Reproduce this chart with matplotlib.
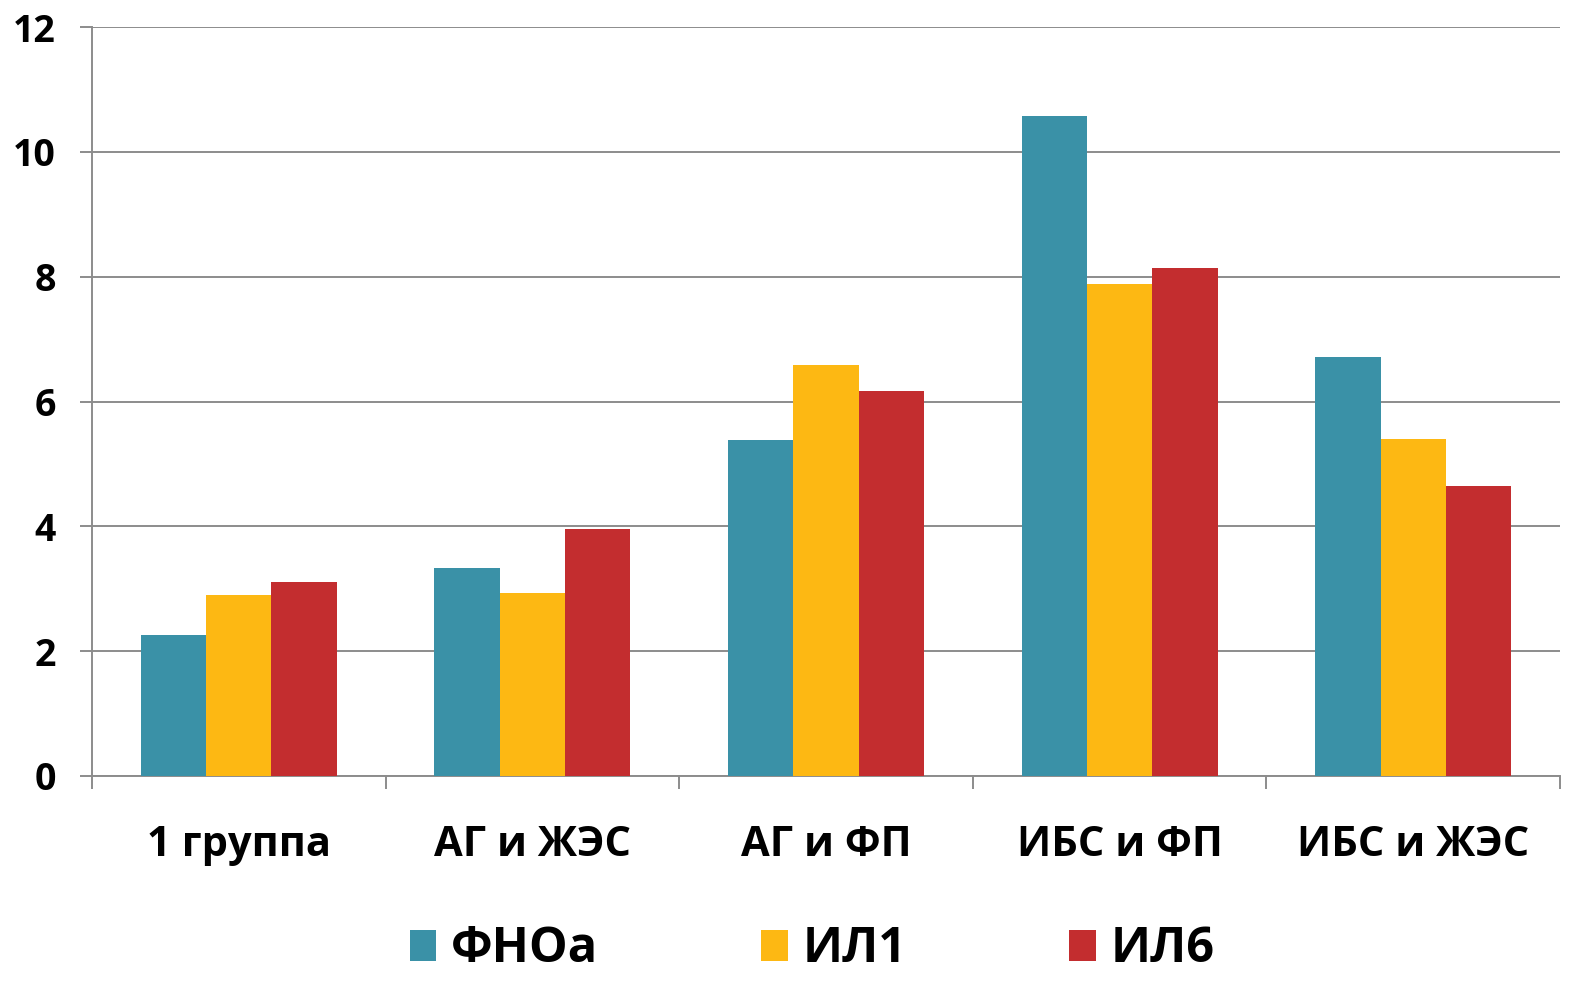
import matplotlib
matplotlib.use("Agg")
import matplotlib.pyplot as plt
import numpy as np

# ── Data ──────────────────────────────────────────────────────────────────────
categories = ["1 группа", "АГ и ЖЭС", "АГ и ФП", "ИБС и ФП", "ИБС и ЖЭС"]
series_names = ["ФНОа", "ИЛ1", "ИЛ6"]
fnoa = [2.26, 3.33, 5.38, 10.57, 6.71]
il1 = [2.90, 2.93, 6.58, 7.88, 5.40]
il6 = [3.11, 3.96, 6.17, 8.14, 4.65]
y_ticks = [0, 2, 4, 6, 8, 10, 12]

colors = ["#3A91A7", "#FDB813", "#C32D2F"]
GRID = "#8C8C8C"

plt.rcParams["font.family"] = ["Open Sans", "DejaVu Sans"]
plt.rcParams["font.weight"] = "bold"

fig = plt.figure(figsize=(15.77, 9.83), dpi=100)
W, H = 1577, 983
ax = fig.add_axes([92 / W, 1 - 776 / H, (1560 - 92) / W, (776 - 27) / H])

x = np.arange(len(categories))
bw = 0.2225
for i, (vals, name) in enumerate(zip([fnoa, il1, il6], series_names)):
    ax.bar(x + (i - 1) * bw, vals, width=bw, color=colors[i], label=name,
           zorder=3)

ax.set_xlim(-0.5, len(categories) - 0.5)
ax.set_ylim(0, 12)
ax.set_yticks(y_ticks)
ax.set_yticklabels([str(t) for t in y_ticks], fontsize=27, fontweight="bold")
ax.yaxis.grid(True, color=GRID, linewidth=1.4, zorder=0)
ax.tick_params(axis="y", length=9, width=1.4, color=GRID, pad=17)

ax.set_xticks(x)
ax.set_xticklabels(categories, fontsize=30, fontweight="bold")
ax.set_xticks(np.arange(-0.5, len(categories)), minor=True)
ax.tick_params(axis="x", which="major", length=0, pad=35)
ax.tick_params(axis="x", which="minor", length=9, width=1.4, color=GRID)

for s in ["top", "right"]:
    ax.spines[s].set_visible(False)
for s in ["left", "bottom"]:
    ax.spines[s].set_color(GRID)
    ax.spines[s].set_linewidth(1.4)

fig.legend(loc="center", bbox_to_anchor=(812 / W, 1 - 950 / H), ncol=3,
           frameon=False, handlelength=0.55, handleheight=0.6,
           handletextpad=0.3, columnspacing=3.35,
           prop={"weight": "bold", "size": 35})

fig.savefig("out.png", dpi=100)
